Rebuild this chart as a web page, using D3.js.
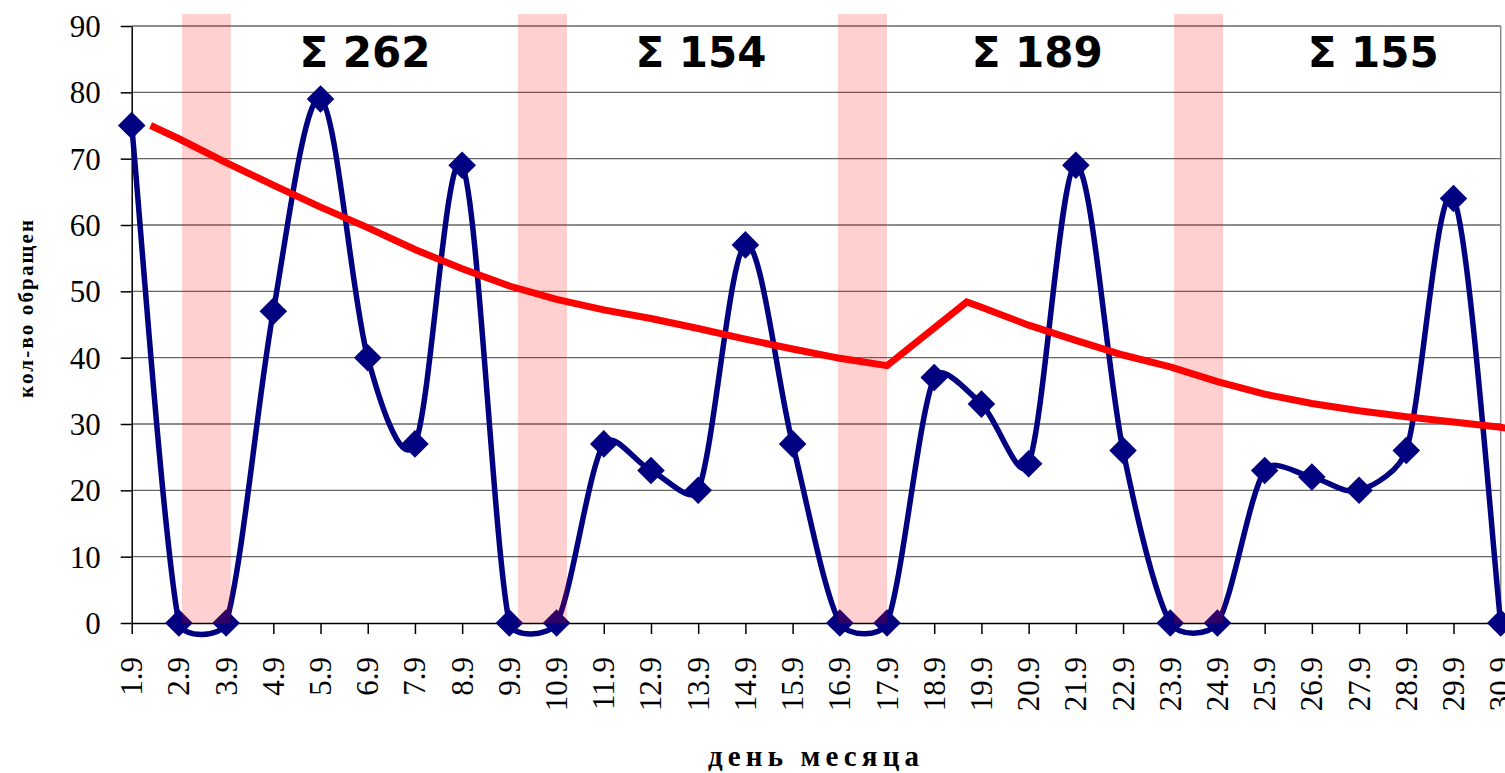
<!DOCTYPE html>
<html>
<head>
<meta charset="utf-8">
<script src="https://cdn.jsdelivr.net/npm/d3@7"></script>
<style>
  html, body { margin: 0; padding: 0; background: #fff; overflow: hidden; }
  svg { display: block; }
</style>
</head>
<body>
<svg id="chart" width="1505" height="773"></svg>
<script>
// ---- data ----
const days = ["1.9","2.9","3.9","4.9","5.9","6.9","7.9","8.9","9.9","10.9",
              "11.9","12.9","13.9","14.9","15.9","16.9","17.9","18.9","19.9","20.9",
              "21.9","22.9","23.9","24.9","25.9","26.9","27.9","28.9","29.9","30.9"];
const calls = [75,0,0,47,79,40,27,69,0,0,27,23,20,57,27,0,0,37,33,24,69,26,0,0,23,22,20,26,64,0];

// trend line (red): position in day index, value
const trendPos = [0.4,1,2,3,4,5,6,7,8,9,10,11,12,13,14,15,16,
                  17.69,18,19,20,21,22,23,24,25,26,27,28,29,29.1];
const trendVal = [75,73.0,69.4,66.0,62.7,59.6,56.3,53.4,50.8,48.8,47.2,45.9,44.4,42.8,41.3,39.9,38.8,
                  48.4,47.6,44.9,42.6,40.4,38.6,36.4,34.5,33.1,32.0,31.1,30.3,29.5,29.4];

const weekSums = [262,154,189,155];
const weekSumPos = [4.94,12.06,19.18,26.3];
const weekendStart = [1.066,8.18,14.96,22.08];
const weekendEnd = [2.1,9.22,16.0,23.12];

const yTicks = [0,10,20,30,40,50,60,70,80,90];

// ---- drawing ----
(function () {
const svg = d3.select("#chart");
const pLeft = 131.7, pRight = 1500.7, pTop = 26, pBottom = 623;
const SERIF = "'Liberation Serif', 'Times New Roman', Times, serif";

const x = d3.scaleLinear().domain([0, days.length - 1]).range([pLeft, pRight]);
const y = d3.scaleLinear().domain([0, 90]).range([pBottom, pTop]);

// gridlines
svg.append("g").selectAll("line").data(yTicks.filter(d => d > 0)).join("line")
  .attr("x1", pLeft).attr("x2", pRight)
  .attr("y1", d => y(d)).attr("y2", d => y(d))
  .attr("stroke", "#666").attr("stroke-width", 1.3);

// right border
svg.append("line").attr("x1", pRight).attr("x2", pRight).attr("y1", pTop).attr("y2", pBottom)
  .attr("stroke", "#888").attr("stroke-width", 1.5);

// y axis
const yAxis = svg.append("g").attr("transform", `translate(${pLeft},0)`)
  .call(d3.axisLeft(y).tickValues(yTicks).tickSize(11).tickSizeOuter(0).tickPadding(20));
yAxis.attr("font-family", null).attr("font-size", null);
yAxis.selectAll("text").style("font-family", SERIF)
  .style("font-size", "31px").attr("fill", "#000").attr("dy", "0.34em");
yAxis.selectAll("line, path").attr("stroke", "#000").attr("stroke-width", 1.5);

// x axis
const xAxis = svg.append("g").attr("transform", `translate(0,${pBottom})`)
  .call(d3.axisBottom(x).tickValues(d3.range(days.length)).tickFormat(i => days[i])
        .tickSize(11).tickSizeOuter(0));
xAxis.attr("font-family", null).attr("font-size", null);
xAxis.selectAll("text")
  .style("font-family", SERIF).style("font-size", "31px").attr("fill", "#000")
  .attr("transform", "rotate(-90)")
  .attr("text-anchor", "end")
  .attr("x", -34).attr("y", 10).attr("dy", 0);
xAxis.selectAll("line, path").attr("stroke", "#000").attr("stroke-width", 1.5);

// blue smoothed line (Excel-like smoothing: Catmull-Rom tangents, capped length)
const pts = calls.map((v, i) => [x(i), y(v)]);
function smoothPath(p) {
  const path = d3.path();
  const dist = (a, b) => Math.hypot(b[0] - a[0], b[1] - a[1]);
  path.moveTo(p[0][0], p[0][1]);
  for (let i = 0; i < p.length - 1; i++) {
    const p0 = p[Math.max(i - 1, 0)], p1 = p[i], p2 = p[i + 1], p3 = p[Math.min(i + 2, p.length - 1)];
    const d12 = dist(p1, p2), d02 = dist(p0, p2), d13 = dist(p1, p3);
    const l1 = Math.min(d02 / 6, d12 / 3), l2 = Math.min(d13 / 6, d12 / 3);
    const c1 = [p1[0] + (p2[0] - p0[0]) / d02 * l1, p1[1] + (p2[1] - p0[1]) / d02 * l1];
    const c2 = [p2[0] - (p3[0] - p1[0]) / d13 * l2, p2[1] - (p3[1] - p1[1]) / d13 * l2];
    path.bezierCurveTo(c1[0], c1[1], c2[0], c2[1], p2[0], p2[1]);
  }
  return path.toString();
}
svg.append("path")
  .attr("d", smoothPath(pts))
  .attr("fill", "none").attr("stroke", "#000080").attr("stroke-width", 5.5)
  .attr("stroke-linejoin", "round");

// diamonds
svg.append("g").selectAll("path").data(calls).join("path")
  .attr("transform", (d, i) => `translate(${x(i)},${y(d)}) rotate(45)`)
  .attr("d", d3.symbol().type(d3.symbolSquare).size(380))
  .attr("fill", "#000080");

// red trend line
const trendPts = trendPos.map((p, i) => [x(p), y(trendVal[i])]);
svg.append("path")
  .attr("d", d3.line()(trendPts))
  .attr("fill", "none").attr("stroke", "#ff0000").attr("stroke-width", 7);

// weekend bands (translucent overlay)
svg.append("g").selectAll("rect").data(weekendStart).join("rect")
  .attr("x", d => x(d))
  .attr("width", (d, i) => x(weekendEnd[i]) - x(d))
  .attr("y", 14).attr("height", pBottom - 14)
  .attr("fill", "rgba(255,0,0,0.184)");

// weekly sums
svg.append("g").selectAll("text").data(weekSums).join("text")
  .attr("x", (d, i) => x(weekSumPos[i])).attr("y", 67)
  .attr("text-anchor", "middle")
  .style("font-family", "'DejaVu Sans', Verdana, sans-serif")
  .style("font-weight", "bold").style("font-size", "42px")
  .text(d => "Σ " + d);

// axis titles
svg.append("text")
  .attr("x", 708).attr("y", 766)
  .style("font-family", SERIF)
  .style("font-weight", "bold").style("font-size", "29px")
  .attr("textLength", 211).attr("lengthAdjust", "spacing")
  .text("день месяца");

svg.append("text")
  .attr("transform", "translate(33,398) rotate(-90)")
  .style("font-family", SERIF)
  .style("font-weight", "bold").style("font-size", "21px")
  .attr("textLength", 178).attr("lengthAdjust", "spacing")
  .text("кол-во обращен");
})();
</script>
</body>
</html>
